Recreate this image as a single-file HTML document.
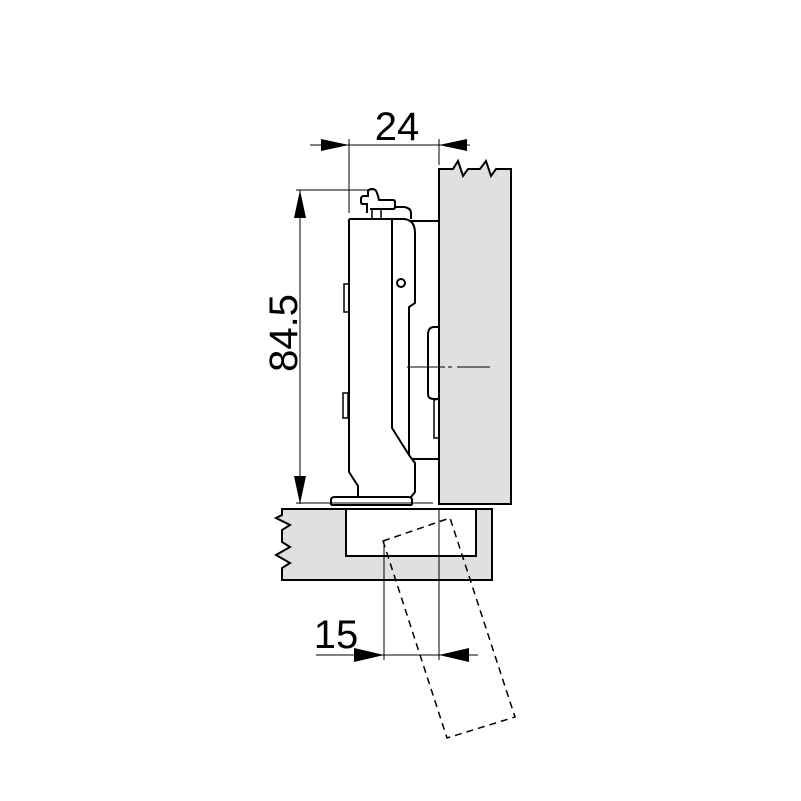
<!DOCTYPE html>
<html><head><meta charset="utf-8"><style>html,body{margin:0;padding:0;background:#fff}svg{display:block}</style></head>
<body>
<svg width="801" height="801" viewBox="0 0 801 801" xmlns="http://www.w3.org/2000/svg">
<g fill="none" stroke="#000" stroke-width="2">
<!-- door panel -->
<path d="M439,169 L453,169 L458,161 L463,176 L468,169 L480,169 L486,161 L491,176 L496,169 L511,169 L511,504 L439,504 Z" fill="#e0e0e0"/>
<!-- cabinet side -->
<path d="M282,509 L492,509 L492,580 L282,580 L282,568 L290,563 L276,555 L290,547 L282,542 L282,530 L290,525 L276,518 L282,515 Z" fill="#e0e0e0"/>
<rect x="346" y="509" width="130" height="47" fill="#fff"/>
<!-- base plate -->
<path d="M331,505 L331,500 Q331,497 335,497 L408,497 Q412,497 412,500 L412,505"/>
<line x1="331" y1="505" x2="412" y2="505"/>
<!-- arm -->
<path d="M409,221 L438,221 M438,459 L409,459"/>
<!-- hinge body -->
<path d="M349,219 L404,219 Q415,220 415,233 L415,303 L409,307 L409,455 L415,463 L415,492 L411,497 M358,497 L358,486 L349,472 L349,219" fill="#fff"/>
<path d="M392,219 L392,428 L409,455"/>
<circle cx="401" cy="283" r="4"/>
<rect x="344" y="284" width="5" height="28" stroke-width="1.5"/>
<rect x="343" y="393" width="5" height="25" stroke-width="1.5"/>
<!-- arm tabs on door -->
<path d="M438,327 L434,327 Q428,327 428,335 L428,394 Q428,399 434,399 L438,399" />
<path d="M438,399 L434,400 L434,438 L438,438" stroke-width="1.5"/>
<!-- clip -->
<path d="M367,213 L367,204 L363,204 Q361,204 361,202 L361,199 Q361,196 364,196 L368,196 L368,192 Q368,189 372,189 Q376,189 377,193 L378,196 L379,200 L393,200 Q395,200 395,202 L395,207 Q395,209 393,209 L370,209" fill="#fff"/>
<path d="M395,207 L404,207 Q411,208 411,213 L411,219"/>
<path d="M372,209 L372,219 M381,209 L381,219" stroke-width="1.5"/>
</g>
<!-- center line -->
<g stroke="#000" stroke-width="1">
<line x1="407" y1="367" x2="445" y2="367"/>
<line x1="448" y1="367" x2="452" y2="367"/>
<line x1="457" y1="367" x2="490" y2="367"/>
<!-- top dim -->
<line x1="310" y1="145" x2="470" y2="145"/>
<line x1="349" y1="139" x2="349" y2="213"/>
<line x1="439" y1="139" x2="439" y2="165"/>
<!-- vertical dim -->
<line x1="300" y1="190" x2="300" y2="504"/>
<line x1="296" y1="190" x2="372" y2="190"/>
<line x1="296" y1="503" x2="433" y2="503"/>
<!-- bottom dim -->
<line x1="384" y1="541" x2="384" y2="660"/>
<line x1="439" y1="509" x2="439" y2="660"/>
<line x1="316" y1="655" x2="478" y2="655"/>
</g>
<g fill="#000">
<polygon points="349,145 321,139 321,151"/>
<polygon points="439,145 467,139 467,151"/>
<polygon points="300,190 294,218 306,218"/>
<polygon points="300,504 294,476 306,476"/>
<polygon points="384,655 354,648 354,662"/>
<polygon points="439,655 469,648 469,662"/>
</g>
<!-- dashed opened door -->
<path d="M383,541 L450,518 L515,717 L447,738 Z" fill="none" stroke="#000" stroke-width="1.5" stroke-dasharray="7,5"/>
<g font-family="Liberation Sans, sans-serif" font-size="40" fill="#000">
<text x="397" y="140" text-anchor="middle">24</text>
<text x="336" y="648" text-anchor="middle">15</text>
<text transform="translate(297,333) rotate(-90)" text-anchor="middle">84.5</text>
</g>
</svg>
</body></html>
